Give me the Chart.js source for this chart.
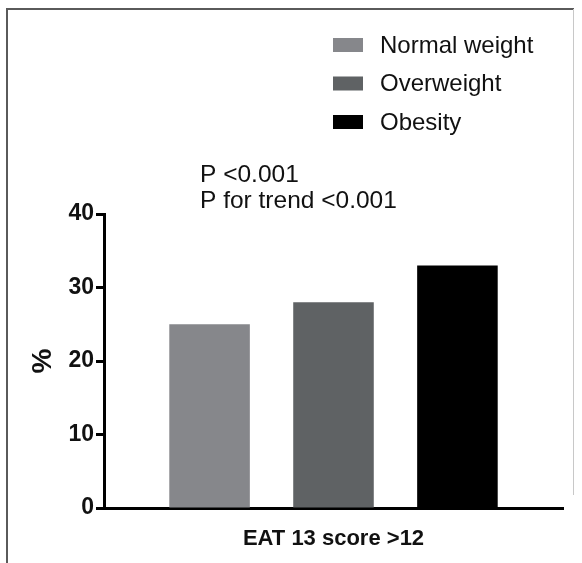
<!DOCTYPE html>
<html>
<head>
<meta charset="utf-8">
<script src="https://cdn.jsdelivr.net/npm/chart.js@4.4.1/dist/chart.umd.min.js"></script>
<style>
    html, body { margin: 0; padding: 0; background: #fff; }
    #wrap { width: 582px; height: 563px; position: relative; }
</style>
</head>
<body>
<div id="wrap"><canvas id="eat-chart" width="582" height="563"></canvas></div>
<script>
// data
const categories = ['EAT 13 score >12'];
const groups = ['Normal weight', 'Overweight', 'Obesity'];
const values = [25, 28, 33];
const barColors = ['#86878b', '#5f6264', '#000000'];
const yTicks = [0, 10, 20, 30, 40];
const notes = ['P <0.001', 'P for trend <0.001'];

const FONT = "'Liberation Sans', Arial, sans-serif";

// frame + legend + p-values drawn by hand
const extras = {
    id: 'extras',
    beforeDraw(chart) {
        const ctx = chart.ctx;
        ctx.save();
        ctx.fillStyle = '#fff';
        ctx.fillRect(0, 0, chart.width, chart.height);
        ctx.strokeStyle = '#5a5a5a';
        ctx.lineWidth = 2;
        ctx.beginPath();
        ctx.moveTo(7, 570);
        ctx.lineTo(7, 9);
        ctx.lineTo(574, 9);
        ctx.stroke();
        ctx.strokeStyle = '#c8c8c8';
        ctx.lineWidth = 1;
        ctx.beginPath();
        ctx.moveTo(573.5, 9);
        ctx.lineTo(573.5, 495);
        ctx.stroke();
        ctx.restore();
    },
    afterDraw(chart) {
        const ctx = chart.ctx;
        ctx.save();
        ctx.textBaseline = 'middle';
        ctx.font = '24px ' + FONT;
        chart.data.datasets.forEach((ds, i) => {
            const y = 45 + i * 38.5;
            ctx.fillStyle = ds.backgroundColor;
            ctx.fillRect(333, y - 7, 30, 14);
            ctx.fillStyle = '#111';
            ctx.fillText(ds.label, 380, y + 1);
        });
        ctx.font = '24.5px ' + FONT;
        ctx.textBaseline = 'alphabetic';
        notes.forEach((t, i) => {
            ctx.fillText(t, 200, 182 + i * 25.5);
        });
        ctx.restore();
    }
};

new Chart(document.getElementById('eat-chart'), {
    type: 'bar',
    data: {
        labels: categories,
        datasets: groups.map((g, i) => ({
            label: g,
            data: [values[i]],
            backgroundColor: barColors[i],
            borderWidth: 0
        }))
    },
    options: {
        responsive: false,
        animation: false,
        events: [],
        layout: { padding: { top: 214, right: 19, left: 0, bottom: 0 } },
        datasets: {
            bar: { categoryPercentage: 0.81, barPercentage: 0.65 }
        },
        plugins: {
            legend: { display: false },
            tooltip: { enabled: false }
        },
        scales: {
            x: {
                grid: { display: false, drawTicks: false },
                border: { display: true, color: '#000', width: 3 },
                ticks: {
                    color: '#111',
                    padding: 18,
                    font: { family: FONT, size: 22, weight: 'bold' }
                },
                afterFit(scale) { scale.height = 55; }
            },
            y: {
                min: 0,
                max: 40,
                afterBuildTicks(scale) {
                    scale.ticks = yTicks.map(v => ({ value: v }));
                },
                grid: {
                    drawOnChartArea: false,
                    drawTicks: true,
                    tickLength: 8,
                    tickWidth: 3,
                    tickColor: '#000'
                },
                border: { display: true, color: '#000', width: 3 },
                ticks: {
                    color: '#111',
                    padding: 2,
                    font: { family: FONT, size: 23, weight: 'bold' }
                },
                title: {
                    display: true,
                    text: '%',
                    color: '#111',
                    padding: { top: 26, bottom: 0 },
                    font: { family: FONT, size: 28, weight: 'bold' }
                },
                afterFit(scale) { scale.width = 104; }
            }
        }
    },
    plugins: [extras]
});
</script>
</body>
</html>
